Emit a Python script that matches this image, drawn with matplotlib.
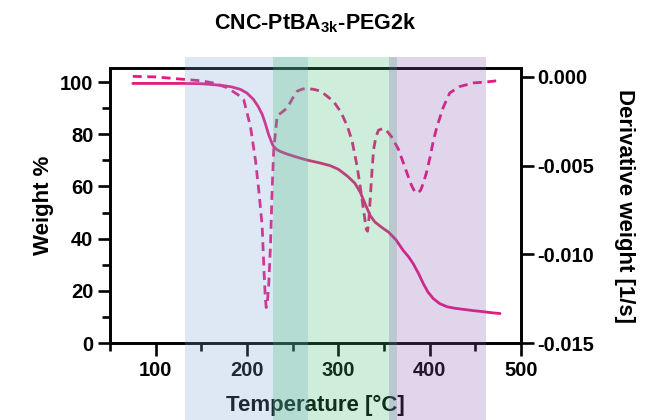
import numpy as np
import matplotlib
matplotlib.use("Agg")
import matplotlib.pyplot as plt
from matplotlib.patches import Rectangle
from matplotlib.transforms import blended_transform_factory
from matplotlib.ticker import MultipleLocator

plt.rcParams['font.family'] = ['Liberation Sans', 'DejaVu Sans']
plt.rcParams['font.weight'] = 'bold'
plt.rcParams['mathtext.fontset'] = 'custom'
plt.rcParams['mathtext.rm'] = 'Liberation Sans:bold'
plt.rcParams['mathtext.it'] = 'Liberation Sans:bold'
plt.rcParams['mathtext.bf'] = 'Liberation Sans:bold'

# TGA weight curve (left axis)
temp_w = [75, 100, 130, 150, 171, 183, 193, 200, 207, 212, 216.6, 220, 223.6, 226.5, 228.6,
          232, 236, 244, 255, 266, 280, 291, 300, 309.5, 318, 324, 330, 335, 340, 348,
          355, 363, 371, 377, 382, 388, 393, 398, 404, 411, 419, 428, 437, 448, 459, 468, 477]
weight = [99.5, 99.5, 99.5, 99.4, 98.8, 98.2, 97.2, 95.8, 93.4, 90.8, 87.7, 84.2, 80.0, 77.3, 75.6,
          74.3, 73.5, 72.4, 71.2, 70.1, 69.0, 68.0, 66.6, 64.1, 61.3, 57.8, 52.8, 48.8, 46.4, 44.2,
          42.5, 39.6, 35.5, 33.0, 30.4, 26.5, 22.8, 19.6, 17.0, 15.1, 13.9, 13.3, 12.9, 12.4, 12.0, 11.6, 11.3]

# DTG derivative curve (right axis)
temp_d = [75, 100, 127, 150, 163, 178, 190, 196.5, 203.8, 209.3, 212.9, 216.6, 218.5, 220, 221,
          222.3, 223.8, 225.7, 227.5, 229.3, 233, 238, 244, 250, 255, 261, 266, 273, 280.5, 288,
          295, 303, 310, 315, 320.4, 324, 327.6, 330.6, 332, 333.5, 335, 337, 338.6, 341, 344,
          349.5, 354, 358.6, 366, 375, 380, 384, 386.6, 390, 393, 397, 400.5, 404, 408, 415,
          422, 433, 448, 462.5, 477]
deriv = [0.00003, 0.0, -0.00012, -0.00022, -0.00034, -0.0006, -0.0010, -0.0013, -0.0028, -0.0047,
         -0.0064, -0.0084, -0.0108, -0.0124, -0.0130,
         -0.0127, -0.0117, -0.0095, -0.0064, -0.0041, -0.0022, -0.0020, -0.00175, -0.0012, -0.0008,
         -0.00068, -0.00066, -0.0007, -0.0008, -0.0011,
         -0.0014, -0.0020, -0.0028, -0.0036, -0.0050, -0.0062, -0.0075, -0.0086, -0.0087, -0.0080,
         -0.0068, -0.0052, -0.0041, -0.0034, -0.0030,
         -0.0029, -0.0031, -0.0034, -0.0041, -0.0054, -0.0061, -0.0065, -0.00655, -0.0064, -0.0060,
         -0.0053, -0.0045, -0.0036, -0.0028, -0.0017,
         -0.0009, -0.00054, -0.00034, -0.00028, -0.0002]

# degradation stage windows (°C)
stages = [(132, 267), (229, 364), (355, 462)]
stage_colors = ['#78A4D4', '#3CBC70', '#8858B0']

pink = '#E6197F'

fig = plt.figure(figsize=(6.52, 4.20), dpi=100)
ax = fig.add_axes([0.1687, 0.1833, 0.6304, 0.6547])
ax2 = ax.twinx()

ax.plot(temp_w, weight, color=pink, lw=2.0, solid_capstyle='round')
ax2.plot(temp_d, deriv, color=pink, lw=2.0, linestyle=(0, (3.2, 2)))

ax.set_xlim(50, 500)
ax.set_ylim(0, 105.4)
ax2.set_ylim(-0.015, 0.0005)

ax.xaxis.set_major_locator(MultipleLocator(100))
ax.xaxis.set_minor_locator(MultipleLocator(50))
ax.yaxis.set_major_locator(MultipleLocator(20))
ax.yaxis.set_minor_locator(MultipleLocator(10))
ax2.set_yticks([0.0, -0.005, -0.010, -0.015])
ax2.set_yticklabels(['0.000', '-0.005', '-0.010', '-0.015'])
ax.set_xticks([100, 200, 300, 400, 500])

for a in (ax, ax2):
    for s in a.spines.values():
        s.set_linewidth(1.9)
    a.tick_params(which='major', length=9, width=1.9, labelsize=14.5, direction='out')
    a.tick_params(which='minor', length=5.5, width=1.9, direction='out')
ax.tick_params(axis='y', pad=3)
ax.tick_params(axis='x', pad=4)
ax2.tick_params(axis='y', pad=3)

ax.set_xlabel('Temperature [°C]', fontsize=16, fontweight='bold', labelpad=11)
ax.set_ylabel('Weight %', fontsize=16, fontweight='bold', labelpad=4)
ax2.set_ylabel('Derivative weight [1/s]', fontsize=16, fontweight='bold', rotation=270, labelpad=29)

fig.text(0.484, 0.931, 'CNC-PtBA$_{3k}$-PEG2k', ha='center', va='baseline',
         fontsize=15.5, fontweight='bold')

# translucent stage bands drawn over everything
trans = blended_transform_factory(ax.transData, fig.transFigure)
for (x0, x1), c in zip(stages, stage_colors):
    fig.add_artist(Rectangle((x0, 0), x1 - x0, 0.864, transform=trans,
                             facecolor=c, edgecolor='none', alpha=0.25, zorder=10))

fig.savefig('out.png', dpi=100)
